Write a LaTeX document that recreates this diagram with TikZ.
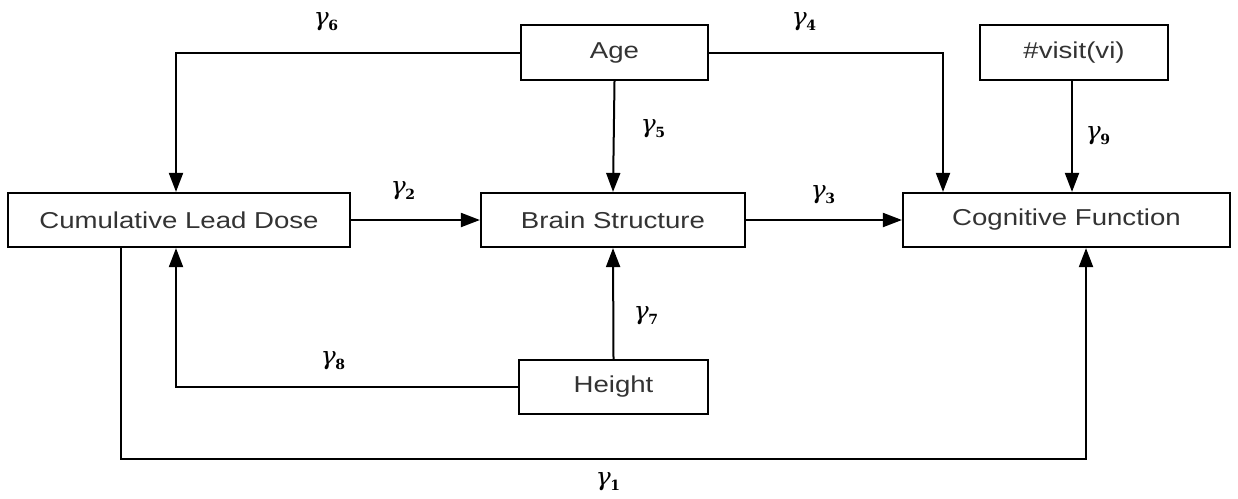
\documentclass[tikz,border=0pt]{standalone}
\usepackage{fontspec}
\setmainfont{Liberation Sans}[FakeStretch=1.2]
\newfontfamily\gfont{DejaVu Serif}
\newcommand{\gam}[1]{{\gfont\itshape γ\kern-0.5pt\raisebox{-5pt}{\upshape\bfseries\fontsize{14}{16}\selectfont #1}}}
\usetikzlibrary{arrows.meta}
\begin{document}
\begin{tikzpicture}[x=1pt,y=-1pt,
  box/.style={draw,line width=2.2pt,inner sep=0pt,font=\fontsize{23}{26}\selectfont,text=black!80},
  conn/.style={line width=2pt,-{Triangle[width=14pt,length=19pt]}},
  lab/.style={font=\fontsize{25}{28}\selectfont}]
\useasboundingbox (0,0) rectangle (1238,498);
\node[box,minimum width=187pt,minimum height=55pt] (age) at (614.5,52.5) {Age};
\node[box,minimum width=188pt,minimum height=55pt] (visit) at (1074,52.5) {\#visit(vi)};
\node[box,minimum width=342pt,minimum height=54pt] (cld) at (179,220) {Cumulative Lead Dose};
\node[box,minimum width=264pt,minimum height=54pt] (bs) at (613,220) {Brain Structure};
\node[box,minimum width=327pt,minimum height=54pt] (cf) at (1066.5,220) {Cognitive Function};
\node[box,minimum width=189pt,minimum height=54pt] (ht) at (613.5,387) {Height};
\coordinate (c6) at (176,52.5);
\coordinate (c4) at (943,52.5);
\coordinate (c8) at (176,387);
\draw[conn] (age.west) -- (c6) -- (c6 |- cld.north);
\draw[conn] (age.east) -- (c4) -- (c4 |- cf.north);
\draw[conn] (age.south) -- (bs.north);
\draw[conn] (visit.south -| 1072,0) -- (1072,0 |- cf.north);
\draw[conn] (cld.east) -- (bs.west);
\draw[conn] (bs.east) -- (cf.west);
\draw[conn] (ht.north) -- (bs.south);
\draw[conn] (ht.west) -- (c8) -- (c8 |- cld.south);
\coordinate (c1a) at (121,459);
\coordinate (c1b) at (1086,459);
\draw[conn] (121,0 |- cld.south) -- (c1a) -- (c1b) -- (c1b |- cf.south);
\node[lab] (g6) at (326,22) {\gam{6}};
\node[lab] (g4) at (804,22) {\gam{4}};
\node[lab] (g5) at (653,129) {\gam{5}};
\node[lab] (g9) at (1098,136) {\gam{9}};
\node[lab] (g2) at (403,191) {\gam{2}};
\node[lab] (g3) at (823,195) {\gam{3}};
\node[lab] (g7) at (646,316) {\gam{7}};
\node[lab] (g8) at (333,361) {\gam{8}};
\node[lab] (g1) at (608,482) {\gam{1}};
\end{tikzpicture}
\end{document}
